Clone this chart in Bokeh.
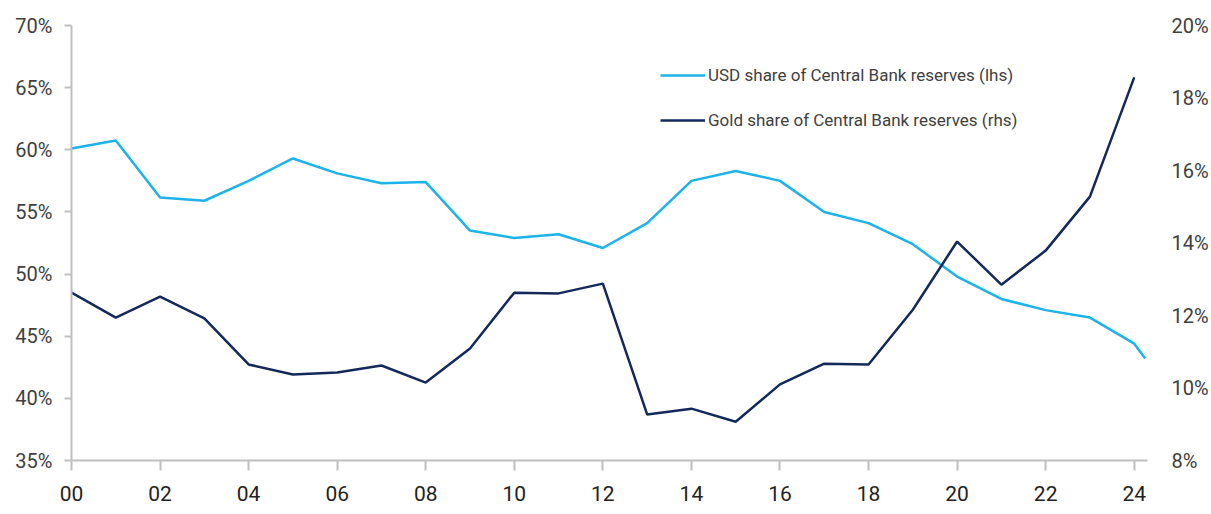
from bokeh.plotting import figure
from bokeh.models import LinearAxis, Range1d, FixedTicker, Legend, LegendItem, NumeralTickFormatter
from bokeh.embed import file_html
from bokeh.resources import INLINE

# ---- data ----
usd_years = [0, 1, 2, 3, 4, 5, 6, 7, 8, 9, 10, 11, 12, 13, 14, 15, 16, 17, 18, 19, 20, 21, 22, 23, 24, 24.25]
usd_share = [60.1, 60.75, 56.16, 55.9, 57.5, 59.3, 58.1, 57.3, 57.4, 53.5, 52.9, 53.2, 52.1, 54.1,
             57.5, 58.3, 57.5, 55.0, 54.1, 52.4, 49.8, 48.0, 47.1, 46.5, 44.4, 43.2]
gold_years = [0, 1, 2, 3, 4, 5, 6, 7, 8, 9, 10, 11, 12, 13, 14, 15, 16, 17, 18, 19, 20, 21, 22, 23, 24]
gold_share = [12.63, 11.94, 12.52, 11.92, 10.65, 10.37, 10.43, 10.62, 10.15, 11.09, 12.63, 12.61,
              12.88, 9.27, 9.43, 9.07, 10.10, 10.67, 10.65, 12.16, 14.04, 12.85, 13.79, 15.28, 18.57]
x_ticks = [0, 2, 4, 6, 8, 10, 12, 14, 16, 18, 20, 22, 24]
x_tick_labels = ["00", "02", "04", "06", "08", "10", "12", "14", "16", "18", "20", "22", "24"]
left_ticks = [35, 40, 45, 50, 55, 60, 65, 70]
right_ticks = [8, 10, 12, 14, 16, 18, 20]
usd_label = "USD share of Central Bank reserves (lhs)"
gold_label = "Gold share of Central Bank reserves (rhs)"

FONT = "Roboto"
TXT = "#404040"
AX = "#bfbfbf"
USD_C = "#1cb2ea"
GOLD_C = "#13295b"

p = figure(width=1211, height=514, output_backend="svg", toolbar_location=None,
           x_range=Range1d(0, 24.3), y_range=Range1d(35, 70),
           min_border_left=71, min_border_right=61, min_border_top=25, min_border_bottom=54,
           y_axis_location=None, x_axis_location=None)
p.extra_y_ranges = {"right": Range1d(8, 20)}
p.outline_line_color = None
p.xgrid.visible = False
p.ygrid.visible = False
p.background_fill_color = "white"
p.border_fill_color = "white"

r_usd = p.line(usd_years, usd_share, line_color=USD_C, line_width=2.5)
r_gold = p.line(gold_years, gold_share, line_color=GOLD_C, line_width=2.5, y_range_name="right")

# left axis
yl = LinearAxis(ticker=FixedTicker(ticks=left_ticks), formatter=NumeralTickFormatter(format="0"))
yl.major_label_overrides = {t: f"{t}%" for t in left_ticks}
yl.axis_line_color = AX
yl.axis_line_width = 2
yl.major_tick_line_color = AX
yl.major_tick_line_width = 2
yl.major_tick_out = 7
yl.major_tick_in = 0
yl.minor_tick_line_color = None
yl.major_label_text_font = FONT
yl.major_label_text_font_size = "20px"
yl.major_label_text_color = TXT
yl.major_label_standoff = 12
p.add_layout(yl, "left")

# right axis
yr = LinearAxis(y_range_name="right", ticker=FixedTicker(ticks=right_ticks))
yr.major_label_overrides = {t: f"{t}%" for t in right_ticks}
yr.axis_line_color = None
yr.major_tick_line_color = None
yr.minor_tick_line_color = None
yr.major_label_text_font = FONT
yr.major_label_text_font_size = "20px"
yr.major_label_text_color = TXT
yr.major_label_standoff = 18
p.add_layout(yr, "right")

# x axis
xa = LinearAxis(ticker=FixedTicker(ticks=x_ticks))
xa.major_label_overrides = dict(zip(x_ticks, x_tick_labels))
xa.axis_line_color = AX
xa.axis_line_width = 2
xa.major_tick_line_color = AX
xa.major_tick_line_width = 2
xa.major_tick_out = 10
xa.major_tick_in = 0
xa.minor_tick_line_color = None
xa.major_label_text_font = FONT
xa.major_label_text_font_size = "21px"
xa.major_label_text_color = "#222222"
xa.major_label_standoff = 15
p.add_layout(xa, "below")

legend = Legend(items=[LegendItem(label=usd_label, renderers=[r_usd]),
                       LegendItem(label=gold_label, renderers=[r_gold])],
                location=(589, 330), orientation="vertical",
                border_line_color=None, background_fill_alpha=0,
                padding=0, margin=0, spacing=25, glyph_width=45, glyph_height=20,
                label_height=20, label_standoff=3,
                label_text_font=FONT, label_text_font_size="17px", label_text_color=TXT)
p.add_layout(legend, "center")

open("out.html", "w").write(file_html(p, INLINE))
